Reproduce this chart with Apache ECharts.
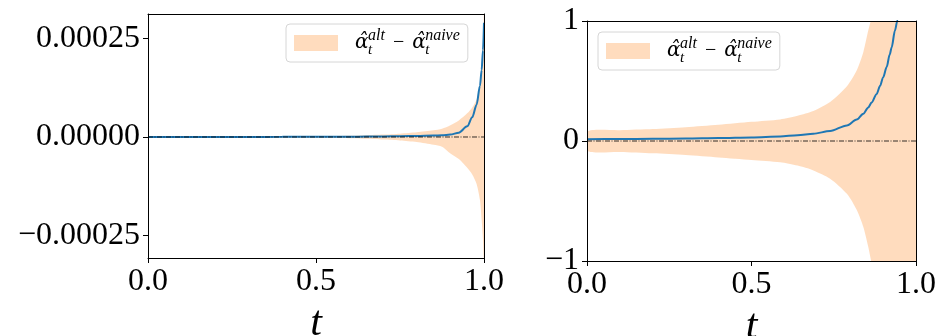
<!DOCTYPE html>
<html><head><meta charset="utf-8">
<script src="https://cdn.jsdelivr.net/npm/echarts@6/dist/echarts.min.js"></script>
<style>html,body{margin:0;padding:0;background:#fff}#c{width:942px;height:336px}</style>
</head><body><div id="c"></div>
<script>
// ---- Left panel data ----
const tLeft = [0, 0.1, 0.2, 0.3, 0.4, 0.5, 0.6, 0.65, 0.7, 0.75, 0.8, 0.85, 0.875, 0.9, 0.925, 0.95, 0.965, 0.978, 0.988, 0.993, 0.997, 1.0];
const lineLeft = [0, 0, 1e-7, 2e-7, 3e-7, 5e-7, 8e-7, 1e-6, 1.5e-6, 2e-6, 2.5e-6, 3.5e-6, 4.5e-6, 6e-6, 1.1e-5, 2.7e-5, 5e-5, 8.2e-5, 1.3e-4, 1.7e-4, 2.2e-4, 2.9e-4];
const upperLeft = [0, 3e-7, 5e-7, 7e-7, 1e-6, 1.5e-6, 3e-6, 4.5e-6, 6e-6, 8.5e-6, 1.2e-5, 1.7e-5, 2.1e-5, 3e-5, 4.2e-5, 6e-5, 7.5e-5, 9.5e-5, 1.35e-4, 1.8e-4, 2.4e-4, 3.2e-4];
const lowerLeft = [0, -3e-7, -5e-7, -7e-7, -1e-6, -1.5e-6, -3e-6, -4.5e-6, -6.5e-6, -9e-6, -1.3e-5, -2e-5, -2.5e-5, -4.2e-5, -5.6e-5, -7.8e-5, -9.5e-5, -1.19e-4, -1.6e-4, -2.1e-4, -2.6e-4, -3.2e-4];

// ---- Right panel data ----
const tRight = [0, 0.1, 0.2, 0.3, 0.4, 0.5, 0.587, 0.64, 0.688, 0.739, 0.79, 0.82, 0.84, 0.855, 0.865, 0.88, 0.891, 0.9, 0.911, 0.92, 0.926, 0.936, 0.943, 0.96, 0.98, 1.0];
const lineRight = [0.015, 0.016, 0.018, 0.02, 0.024, 0.03, 0.038, 0.048, 0.061, 0.083, 0.13, 0.18, 0.228, 0.28, 0.32, 0.39, 0.46, 0.53, 0.617, 0.72, 0.78, 0.92, 1.0, 1.4, 2.2, 4.0];
const upperRight = [0.078, 0.09, 0.1, 0.115, 0.135, 0.16, 0.18, 0.21, 0.25, 0.325, 0.456, 0.589, 0.742, 0.922, 1.03, 1.25, 1.45, 1.6, 1.85, 2.1, 2.3, 2.7, 3.1, 4.5, 7.0, 12.0];
const lowerRight = [-0.081, -0.092, -0.103, -0.117, -0.137, -0.158, -0.177, -0.205, -0.245, -0.314, -0.44, -0.575, -0.717, -0.883, -1.02, -1.25, -1.45, -1.6, -1.85, -2.1, -2.3, -2.7, -3.1, -4.5, -7.0, -12.0];

// ---- Ticks ----
const xTicks = [0, 0.5, 1];
const xTickLabels = ['0.0', '0.5', '1.0'];
const yTicksLeft = [-0.00025, 0, 0.00025];
const yTickLabelsLeft = ['\u22120.00025', '0.00000', '0.00025'];
const yTicksRight = [-1, 0, 1];
const yTickLabelsRight = ['\u22121', '0', '1'];
const zeroLine = [[0, 0], [1, 0]];
const legendName = 'alpha_alt_minus_naive';

const FONT = "'Liberation Serif', 'DejaVu Serif', serif";
const bandColor = 'rgba(255,127,14,0.27)';
const lineColor = '#1f77b4';

function labelFor(ticks, labels) {
  return function (v) {
    for (let i = 0; i < ticks.length; i++) if (Math.abs(v - ticks[i]) < 1e-9) return labels[i];
    return '';
  };
}

function xAxisMain(gi) {
  return {
    type: 'value', gridIndex: gi, min: 0, max: 1, interval: 0.5, z: 10,
    axisLine: { show: true, onZero: false, lineStyle: { color: '#000', width: 1 } },
    axisTick: { show: true, length: 5, lineStyle: { color: '#000', width: 1 } },
    axisLabel: { show: true, showMinLabel: true, showMaxLabel: true, margin: 8, color: '#000', fontFamily: FONT, fontSize: 32, formatter: labelFor(xTicks, xTickLabels) },
    splitLine: { show: false },
    name: 't', nameLocation: 'middle', nameGap: 36,
    nameTextStyle: { fontFamily: FONT, fontStyle: 'italic', fontSize: 42, color: '#000' }
  };
}
function frameAxisX(gi) {
  return { type: 'value', gridIndex: gi, position: 'top', min: 0, max: 1, z: 10,
    axisLine: { show: true, onZero: false, lineStyle: { color: '#000', width: 1 } },
    axisTick: { show: false }, axisLabel: { show: false }, splitLine: { show: false } };
}
function frameAxisY(gi, mn, mx) {
  return { type: 'value', gridIndex: gi, position: 'right', min: mn, max: mx, z: 10,
    axisLine: { show: true, onZero: false, lineStyle: { color: '#000', width: 1 } },
    axisTick: { show: false }, axisLabel: { show: false }, splitLine: { show: false } };
}

const richText = '{sp| }{a|\u03b1\u0302}{s|t}{p|alt}{m|\u2212}{a|\u03b1\u0302}{s|t}{p|naive}';
const rich = {
  sp: { width: 12, fontSize: 10, lineHeight: 30 },
  a: { fontFamily: "'DejaVu Serif', serif", fontStyle: 'italic', fontSize: 20, lineHeight: 30, width: 13, verticalAlign: 'middle', color: '#000' },
  s: { fontFamily: FONT, fontStyle: 'italic', fontSize: 15, lineHeight: 12, width: 0, verticalAlign: 'bottom', color: '#000' },
  p: { fontFamily: FONT, fontStyle: 'italic', fontSize: 16, lineHeight: 18, verticalAlign: 'top', color: '#000' },
  m: { fontFamily: FONT, fontSize: 20, lineHeight: 30, padding: [0, 8, 0, 8], color: '#000' }
};
function legendAt(left, top) {
  return {
    left: left, top: top, orient: 'horizontal',
    data: [{ name: legendName, icon: 'rect' }],
    itemWidth: 44, itemHeight: 16,
    padding: [4, 8, 4, 8],
    backgroundColor: 'rgba(255,255,255,0.8)',
    borderColor: '#d6d6d6', borderWidth: 1, borderRadius: 4,
    itemStyle: { color: bandColor, borderWidth: 0 },
    selectedMode: false,
    formatter: function () { return richText; },
    textStyle: { rich: rich }
  };
}

function pairs(ts, vs) { return ts.map((t, i) => [t, vs[i]]); }

function bandSeries(xi, yi, ts, up, lo) {
  return {
    type: 'custom', name: legendName, xAxisIndex: xi, yAxisIndex: yi, clip: true, silent: true, z: 2,
    color: bandColor,
    data: ts.map((t, i) => [t, lo[i], up[i]]),
    encode: { x: 0, y: [1, 2] },
    renderItem: function (params, api) {
      if (params.dataIndex !== 0) return null;
      const pts = [];
      for (let i = 0; i < ts.length; i++) pts.push(api.coord([ts[i], up[i]]));
      for (let i = ts.length - 1; i >= 0; i--) pts.push(api.coord([ts[i], lo[i]]));
      return { type: 'polygon', shape: { points: pts, smooth: 0.25 }, style: { fill: bandColor, stroke: null } };
    }
  };
}

function panelSeries(xi, yi, id, ts, up, lo, ln) {
  return [
    bandSeries(xi, yi, ts, up, lo),
    { type: 'line', name: 'line_' + id, xAxisIndex: xi, yAxisIndex: yi,
      data: pairs(ts, ln), symbol: 'none', lineStyle: { color: lineColor, width: 2 }, z: 3,
      smooth: 0.3, smoothMonotone: 'x', silent: true },
    { type: 'line', name: 'zero_' + id, xAxisIndex: xi, yAxisIndex: yi,
      data: zeroLine, symbol: 'none', lineStyle: { color: '#000', width: 0.8, type: [5, 1.5, 1, 1.5] }, z: 4, silent: true }
  ];
}

const option = {
  animation: false,
  backgroundColor: '#fff',
  grid: [
    { left: 148, top: 14, width: 336, height: 244, containLabel: false, outerBoundsMode: 'none' },
    { left: 587, top: 21, width: 329, height: 240, containLabel: false, outerBoundsMode: 'none' }
  ],
  xAxis: [xAxisMain(0), xAxisMain(1), frameAxisX(0), frameAxisX(1)],
  yAxis: [
    { type: 'value', gridIndex: 0, min: -0.000307, max: 0.000312, z: 10,
      axisLine: { show: true, onZero: false, lineStyle: { color: '#000', width: 1 } },
      axisTick: { show: true, length: 5, customValues: yTicksLeft, lineStyle: { color: '#000', width: 1 } },
      axisLabel: { margin: 8, color: '#000', fontFamily: FONT, fontSize: 32, customValues: yTicksLeft, formatter: labelFor(yTicksLeft, yTickLabelsLeft) },
      splitLine: { show: false } },
    { type: 'value', gridIndex: 1, min: -1, max: 1, interval: 1, z: 10,
      axisLine: { show: true, onZero: false, lineStyle: { color: '#000', width: 1 } },
      axisTick: { show: true, length: 5, lineStyle: { color: '#000', width: 1 } },
      axisLabel: { margin: 8, showMinLabel: true, showMaxLabel: true, color: '#000', fontFamily: FONT, fontSize: 32, formatter: labelFor(yTicksRight, yTickLabelsRight) },
      splitLine: { show: false } },
    frameAxisY(0, -0.000307, 0.000312),
    frameAxisY(1, -1, 1)
  ],
  legend: [legendAt(286, 24), legendAt(598, 32)],
  series: [].concat(
    panelSeries(0, 0, 'L', tLeft, upperLeft, lowerLeft, lineLeft),
    panelSeries(1, 1, 'R', tRight, upperRight, lowerRight, lineRight)
  )
};

const chart = echarts.init(document.getElementById('c'), null, { renderer: 'canvas' });
chart.setOption(option);
</script>
</body></html>
